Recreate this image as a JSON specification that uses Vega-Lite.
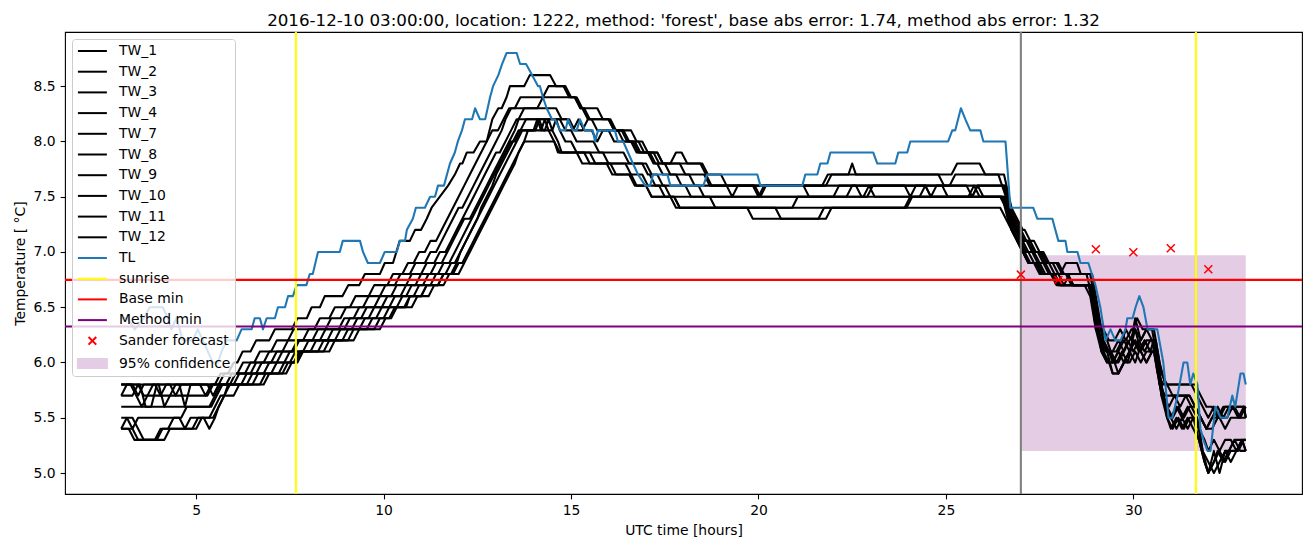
{
"$schema": "https://vega.github.io/schema/vega-lite/v6.json",
"width": 1237, "height": 462,
"autosize": {"type": "none"},
"padding": {"left": 65, "top": 32, "right": 13, "bottom": 53},
"background": "white",
"title": {"text": "2016-12-10 03:00:00, location: 1222, method: 'forest', base abs error: 1.74, method abs error: 1.32", "font": "DejaVu Sans", "fontSize": 16.7, "fontWeight": "normal", "color": "black", "anchor": "middle", "frame": "group", "offset": -12, "baseline": "alphabetic"},
"config": {
  "view": {"stroke": "black", "strokeWidth": 1.1},
  "axis": {"domain": false, "grid": false, "tickColor": "black", "tickSize": 4.9, "tickWidth": 1.1, "labelFont": "DejaVu Sans", "labelFontSize": 13.9, "labelColor": "black", "labelPadding": 4.9, "titleFont": "DejaVu Sans", "titleFontSize": 13.9, "titleFontWeight": "normal", "titleColor": "black"},
  "legend": {"orient": "top-left", "direction": "vertical", "offset": 7, "padding": 4, "rowPadding": 5.7, "symbolSize": 196, "symbolOffset": 8.4, "labelOffset": 18.6, "labelFont": "DejaVu Sans", "labelFontSize": 13.9, "labelColor": "black", "fillColor": "rgba(255,255,255,0.8)", "strokeColor": "#cccccc", "cornerRadius": 3, "labelLimit": 0, "symbolLimit": 0}
},
"datasets": {
"tw": [
{"s":"TW_1","x":3,"y":5.8},{"s":"TW_1","x":3.3,"y":5.8},{"s":"TW_1","x":3.45,"y":5.7},{"s":"TW_1","x":3.6,"y":5.8},{"s":"TW_1","x":4.3,"y":5.8},{"s":"TW_1","x":4.45,"y":5.7},{"s":"TW_1","x":4.6,"y":5.8},{"s":"TW_1","x":5.5,"y":5.8},{"s":"TW_1","x":5.65,"y":5.9},{"s":"TW_1","x":5.85,"y":5.9},{"s":"TW_1","x":6.0,"y":6.0},{"s":"TW_1","x":6.1,"y":6.0},{"s":"TW_1","x":6.24,"y":6.1},{"s":"TW_1","x":6.45,"y":6.1},{"s":"TW_1","x":6.6,"y":6.2},{"s":"TW_1","x":6.95,"y":6.2},{"s":"TW_1","x":7.1,"y":6.3},{"s":"TW_1","x":7.55,"y":6.3},{"s":"TW_1","x":7.7,"y":6.4},{"s":"TW_1","x":7.95,"y":6.4},{"s":"TW_1","x":8.08,"y":6.5},{"s":"TW_1","x":8.3,"y":6.5},{"s":"TW_1","x":8.43,"y":6.6},{"s":"TW_1","x":8.9,"y":6.6},{"s":"TW_1","x":9.06,"y":6.7},{"s":"TW_1","x":9.35,"y":6.7},{"s":"TW_1","x":9.5,"y":6.8},{"s":"TW_1","x":9.9,"y":6.8},{"s":"TW_1","x":10.03,"y":6.9},{"s":"TW_1","x":10.25,"y":6.9},{"s":"TW_1","x":10.43,"y":7.1},{"s":"TW_1","x":10.7,"y":7.1},{"s":"TW_1","x":10.84,"y":7.2},{"s":"TW_1","x":11.0,"y":7.2},{"s":"TW_1","x":11.15,"y":7.3},{"s":"TW_1","x":11.28,"y":7.4},{"s":"TW_1","x":11.5,"y":7.5},{"s":"TW_1","x":11.72,"y":7.6},{"s":"TW_1","x":11.9,"y":7.7},{"s":"TW_1","x":12.04,"y":7.8},{"s":"TW_1","x":12.1,"y":7.8},{"s":"TW_1","x":12.22,"y":7.9},{"s":"TW_1","x":12.4,"y":7.9},{"s":"TW_1","x":12.57,"y":8.0},{"s":"TW_1","x":12.75,"y":8.0},{"s":"TW_1","x":12.9,"y":8.2},{"s":"TW_1","x":13.06,"y":8.3},{"s":"TW_1","x":13.15,"y":8.3},{"s":"TW_1","x":13.28,"y":8.4},{"s":"TW_1","x":13.37,"y":8.5},{"s":"TW_1","x":13.75,"y":8.5},{"s":"TW_1","x":13.9,"y":8.6},{"s":"TW_1","x":14.44,"y":8.6},{"s":"TW_1","x":14.6,"y":8.5},{"s":"TW_1","x":14.85,"y":8.5},{"s":"TW_1","x":15.0,"y":8.4},{"s":"TW_1","x":15.1,"y":8.4},{"s":"TW_1","x":15.25,"y":8.3},{"s":"TW_1","x":15.7,"y":8.3},{"s":"TW_1","x":15.85,"y":8.2},{"s":"TW_1","x":16.0,"y":8.2},{"s":"TW_1","x":16.15,"y":8.1},{"s":"TW_1","x":16.4,"y":8.1},{"s":"TW_1","x":16.55,"y":8.0},{"s":"TW_1","x":16.7,"y":8.0},{"s":"TW_1","x":16.85,"y":7.9},{"s":"TW_1","x":17.1,"y":7.9},{"s":"TW_1","x":17.25,"y":7.8},{"s":"TW_1","x":18.45,"y":7.8},{"s":"TW_1","x":18.6,"y":7.7},{"s":"TW_1","x":18.75,"y":7.6},{"s":"TW_1","x":21.7,"y":7.6},{"s":"TW_1","x":21.85,"y":7.7},{"s":"TW_1","x":25.15,"y":7.7},{"s":"TW_1","x":25.3,"y":7.8},{"s":"TW_1","x":25.9,"y":7.8},{"s":"TW_1","x":26.05,"y":7.7},{"s":"TW_1","x":26.55,"y":7.7},{"s":"TW_1","x":26.75,"y":7.4},{"s":"TW_1","x":26.9,"y":7.3},{"s":"TW_1","x":27.05,"y":7.2},{"s":"TW_1","x":27.1,"y":7.2},{"s":"TW_1","x":27.25,"y":7.1},{"s":"TW_1","x":27.35,"y":7.1},{"s":"TW_1","x":27.5,"y":7.0},{"s":"TW_1","x":27.6,"y":7.0},{"s":"TW_1","x":27.75,"y":6.9},{"s":"TW_1","x":28.0,"y":6.9},{"s":"TW_1","x":28.15,"y":6.8},{"s":"TW_1","x":28.75,"y":6.8},{"s":"TW_1","x":28.9,"y":6.6},{"s":"TW_1","x":29.0,"y":6.4},{"s":"TW_1","x":29.15,"y":6.3},{"s":"TW_1","x":29.2,"y":6.3},{"s":"TW_1","x":29.35,"y":6.2},{"s":"TW_1","x":29.5,"y":6.2},{"s":"TW_1","x":29.65,"y":6.3},{"s":"TW_1","x":29.8,"y":6.2},{"s":"TW_1","x":29.95,"y":6.3},{"s":"TW_1","x":30.0,"y":6.3},{"s":"TW_1","x":30.1,"y":6.4},{"s":"TW_1","x":30.25,"y":6.3},{"s":"TW_1","x":30.55,"y":6.3},{"s":"TW_1","x":30.7,"y":6.0},{"s":"TW_1","x":30.85,"y":5.8},{"s":"TW_1","x":31.65,"y":5.8},{"s":"TW_1","x":31.8,"y":5.7},{"s":"TW_1","x":31.95,"y":5.6},{"s":"TW_1","x":32.1,"y":5.6},{"s":"TW_1","x":32.25,"y":5.5},{"s":"TW_1","x":32.4,"y":5.6},{"s":"TW_1","x":32.95,"y":5.6},{"s":"TW_1","x":33.0,"y":5.5},
{"s":"TW_2","x":3,"y":5.8},{"s":"TW_2","x":3.5,"y":5.8},{"s":"TW_2","x":3.65,"y":5.6},{"s":"TW_2","x":3.8,"y":5.6},{"s":"TW_2","x":3.95,"y":5.8},{"s":"TW_2","x":4.55,"y":5.8},{"s":"TW_2","x":4.7,"y":5.6},{"s":"TW_2","x":4.85,"y":5.8},{"s":"TW_2","x":5.6,"y":5.8},{"s":"TW_2","x":5.75,"y":5.9},{"s":"TW_2","x":6.1,"y":5.9},{"s":"TW_2","x":6.25,"y":6.0},{"s":"TW_2","x":6.55,"y":6.0},{"s":"TW_2","x":6.7,"y":6.1},{"s":"TW_2","x":7.0,"y":6.1},{"s":"TW_2","x":7.15,"y":6.2},{"s":"TW_2","x":7.45,"y":6.2},{"s":"TW_2","x":7.6,"y":6.3},{"s":"TW_2","x":8.15,"y":6.3},{"s":"TW_2","x":8.3,"y":6.4},{"s":"TW_2","x":8.55,"y":6.4},{"s":"TW_2","x":8.7,"y":6.5},{"s":"TW_2","x":9.1,"y":6.5},{"s":"TW_2","x":9.25,"y":6.6},{"s":"TW_2","x":9.6,"y":6.6},{"s":"TW_2","x":9.75,"y":6.7},{"s":"TW_2","x":10.1,"y":6.7},{"s":"TW_2","x":10.25,"y":6.8},{"s":"TW_2","x":10.5,"y":6.8},{"s":"TW_2","x":10.65,"y":6.9},{"s":"TW_2","x":10.8,"y":6.9},{"s":"TW_2","x":10.95,"y":7.0},{"s":"TW_2","x":11.1,"y":7.0},{"s":"TW_2","x":11.25,"y":7.1},{"s":"TW_2","x":11.4,"y":7.1},{"s":"TW_2","x":11.55,"y":7.2},{"s":"TW_2","x":11.7,"y":7.3},{"s":"TW_2","x":11.85,"y":7.4},{"s":"TW_2","x":12.0,"y":7.5},{"s":"TW_2","x":12.15,"y":7.6},{"s":"TW_2","x":12.3,"y":7.7},{"s":"TW_2","x":12.45,"y":7.8},{"s":"TW_2","x":12.6,"y":7.9},{"s":"TW_2","x":12.75,"y":8.0},{"s":"TW_2","x":12.9,"y":8.1},{"s":"TW_2","x":13.05,"y":8.1},{"s":"TW_2","x":13.2,"y":8.2},{"s":"TW_2","x":13.35,"y":8.3},{"s":"TW_2","x":13.5,"y":8.3},{"s":"TW_2","x":13.65,"y":8.4},{"s":"TW_2","x":14.25,"y":8.4},{"s":"TW_2","x":14.4,"y":8.5},{"s":"TW_2","x":14.8,"y":8.5},{"s":"TW_2","x":14.95,"y":8.4},{"s":"TW_2","x":15.15,"y":8.4},{"s":"TW_2","x":15.3,"y":8.3},{"s":"TW_2","x":15.35,"y":8.3},{"s":"TW_2","x":15.5,"y":8.2},{"s":"TW_2","x":16.05,"y":8.2},{"s":"TW_2","x":16.2,"y":8.1},{"s":"TW_2","x":16.6,"y":8.1},{"s":"TW_2","x":16.75,"y":8.0},{"s":"TW_2","x":16.8,"y":8.0},{"s":"TW_2","x":16.95,"y":7.9},{"s":"TW_2","x":17.3,"y":7.9},{"s":"TW_2","x":17.45,"y":7.8},{"s":"TW_2","x":17.65,"y":7.8},{"s":"TW_2","x":17.8,"y":7.9},{"s":"TW_2","x":17.95,"y":7.9},{"s":"TW_2","x":18.1,"y":7.8},{"s":"TW_2","x":18.5,"y":7.8},{"s":"TW_2","x":18.65,"y":7.7},{"s":"TW_2","x":19.0,"y":7.7},{"s":"TW_2","x":19.15,"y":7.6},{"s":"TW_2","x":21.8,"y":7.6},{"s":"TW_2","x":21.95,"y":7.7},{"s":"TW_2","x":22.4,"y":7.7},{"s":"TW_2","x":22.5,"y":7.8},{"s":"TW_2","x":22.6,"y":7.7},{"s":"TW_2","x":24.8,"y":7.7},{"s":"TW_2","x":24.95,"y":7.6},{"s":"TW_2","x":25.1,"y":7.6},{"s":"TW_2","x":25.25,"y":7.7},{"s":"TW_2","x":26.4,"y":7.7},{"s":"TW_2","x":26.6,"y":7.5},{"s":"TW_2","x":26.75,"y":7.3},{"s":"TW_2","x":26.9,"y":7.2},{"s":"TW_2","x":27.05,"y":7.1},{"s":"TW_2","x":27.2,"y":7.1},{"s":"TW_2","x":27.35,"y":7.0},{"s":"TW_2","x":27.5,"y":7.0},{"s":"TW_2","x":27.65,"y":6.9},{"s":"TW_2","x":27.85,"y":6.9},{"s":"TW_2","x":28.0,"y":6.8},{"s":"TW_2","x":28.2,"y":6.8},{"s":"TW_2","x":28.35,"y":6.7},{"s":"TW_2","x":28.8,"y":6.7},{"s":"TW_2","x":28.95,"y":6.5},{"s":"TW_2","x":29.1,"y":6.2},{"s":"TW_2","x":29.25,"y":6.1},{"s":"TW_2","x":29.4,"y":6.1},{"s":"TW_2","x":29.55,"y":6.0},{"s":"TW_2","x":29.7,"y":6.1},{"s":"TW_2","x":29.85,"y":6.0},{"s":"TW_2","x":30.0,"y":6.2},{"s":"TW_2","x":30.15,"y":6.1},{"s":"TW_2","x":30.3,"y":6.2},{"s":"TW_2","x":30.45,"y":6.1},{"s":"TW_2","x":30.55,"y":6.2},{"s":"TW_2","x":30.7,"y":5.8},{"s":"TW_2","x":30.85,"y":5.7},{"s":"TW_2","x":31.5,"y":5.7},{"s":"TW_2","x":31.65,"y":5.6},{"s":"TW_2","x":31.8,"y":5.5},{"s":"TW_2","x":31.95,"y":5.4},{"s":"TW_2","x":32.1,"y":5.4},{"s":"TW_2","x":32.25,"y":5.5},{"s":"TW_2","x":32.5,"y":5.5},{"s":"TW_2","x":32.65,"y":5.6},{"s":"TW_2","x":32.8,"y":5.5},{"s":"TW_2","x":32.95,"y":5.6},{"s":"TW_2","x":33.0,"y":5.5},
{"s":"TW_3","x":3,"y":5.8},{"s":"TW_3","x":3.9,"y":5.8},{"s":"TW_3","x":4.05,"y":5.7},{"s":"TW_3","x":4.2,"y":5.8},{"s":"TW_3","x":5.1,"y":5.8},{"s":"TW_3","x":5.25,"y":5.7},{"s":"TW_3","x":5.4,"y":5.8},{"s":"TW_3","x":5.8,"y":5.8},{"s":"TW_3","x":5.95,"y":5.9},{"s":"TW_3","x":6.3,"y":5.9},{"s":"TW_3","x":6.45,"y":6.0},{"s":"TW_3","x":6.8,"y":6.0},{"s":"TW_3","x":6.95,"y":6.1},{"s":"TW_3","x":7.3,"y":6.1},{"s":"TW_3","x":7.45,"y":6.2},{"s":"TW_3","x":7.85,"y":6.2},{"s":"TW_3","x":8.0,"y":6.3},{"s":"TW_3","x":8.45,"y":6.3},{"s":"TW_3","x":8.6,"y":6.4},{"s":"TW_3","x":8.85,"y":6.4},{"s":"TW_3","x":9.0,"y":6.5},{"s":"TW_3","x":9.45,"y":6.5},{"s":"TW_3","x":9.6,"y":6.6},{"s":"TW_3","x":9.9,"y":6.6},{"s":"TW_3","x":10.05,"y":6.7},{"s":"TW_3","x":10.3,"y":6.7},{"s":"TW_3","x":10.45,"y":6.8},{"s":"TW_3","x":10.7,"y":6.8},{"s":"TW_3","x":10.85,"y":6.9},{"s":"TW_3","x":11.1,"y":6.9},{"s":"TW_3","x":11.25,"y":7.0},{"s":"TW_3","x":11.4,"y":7.0},{"s":"TW_3","x":11.55,"y":7.1},{"s":"TW_3","x":11.7,"y":7.2},{"s":"TW_3","x":11.85,"y":7.3},{"s":"TW_3","x":12.0,"y":7.4},{"s":"TW_3","x":12.1,"y":7.4},{"s":"TW_3","x":12.25,"y":7.5},{"s":"TW_3","x":12.4,"y":7.6},{"s":"TW_3","x":12.55,"y":7.7},{"s":"TW_3","x":12.7,"y":7.8},{"s":"TW_3","x":12.85,"y":7.9},{"s":"TW_3","x":13.0,"y":8.0},{"s":"TW_3","x":13.15,"y":8.1},{"s":"TW_3","x":13.25,"y":8.2},{"s":"TW_3","x":13.4,"y":8.3},{"s":"TW_3","x":14.6,"y":8.3},{"s":"TW_3","x":14.75,"y":8.2},{"s":"TW_3","x":14.9,"y":8.2},{"s":"TW_3","x":15.05,"y":8.1},{"s":"TW_3","x":15.2,"y":8.2},{"s":"TW_3","x":15.35,"y":8.1},{"s":"TW_3","x":15.55,"y":8.1},{"s":"TW_3","x":15.7,"y":8.0},{"s":"TW_3","x":15.85,"y":8.1},{"s":"TW_3","x":16.35,"y":8.1},{"s":"TW_3","x":16.5,"y":8.0},{"s":"TW_3","x":16.6,"y":8.0},{"s":"TW_3","x":16.75,"y":7.9},{"s":"TW_3","x":17.05,"y":7.9},{"s":"TW_3","x":17.2,"y":7.8},{"s":"TW_3","x":17.3,"y":7.8},{"s":"TW_3","x":17.45,"y":7.7},{"s":"TW_3","x":18.55,"y":7.7},{"s":"TW_3","x":18.7,"y":7.6},{"s":"TW_3","x":19.15,"y":7.6},{"s":"TW_3","x":19.3,"y":7.5},{"s":"TW_3","x":19.45,"y":7.6},{"s":"TW_3","x":19.85,"y":7.6},{"s":"TW_3","x":20.0,"y":7.5},{"s":"TW_3","x":20.15,"y":7.6},{"s":"TW_3","x":22.6,"y":7.6},{"s":"TW_3","x":22.75,"y":7.5},{"s":"TW_3","x":22.9,"y":7.5},{"s":"TW_3","x":23.05,"y":7.6},{"s":"TW_3","x":26.55,"y":7.6},{"s":"TW_3","x":26.7,"y":7.4},{"s":"TW_3","x":26.85,"y":7.3},{"s":"TW_3","x":27.0,"y":7.2},{"s":"TW_3","x":27.15,"y":7.1},{"s":"TW_3","x":27.3,"y":7.0},{"s":"TW_3","x":27.45,"y":7.0},{"s":"TW_3","x":27.6,"y":6.9},{"s":"TW_3","x":27.75,"y":6.9},{"s":"TW_3","x":27.9,"y":6.8},{"s":"TW_3","x":28.05,"y":6.8},{"s":"TW_3","x":28.2,"y":6.9},{"s":"TW_3","x":28.5,"y":6.9},{"s":"TW_3","x":28.6,"y":6.8},{"s":"TW_3","x":28.9,"y":6.8},{"s":"TW_3","x":29.05,"y":6.5},{"s":"TW_3","x":29.2,"y":6.2},{"s":"TW_3","x":29.35,"y":6.1},{"s":"TW_3","x":29.45,"y":6.0},{"s":"TW_3","x":29.6,"y":6.0},{"s":"TW_3","x":29.75,"y":6.1},{"s":"TW_3","x":29.85,"y":6.2},{"s":"TW_3","x":30.0,"y":6.1},{"s":"TW_3","x":30.15,"y":6.2},{"s":"TW_3","x":30.3,"y":6.1},{"s":"TW_3","x":30.45,"y":6.2},{"s":"TW_3","x":30.55,"y":6.2},{"s":"TW_3","x":30.7,"y":5.9},{"s":"TW_3","x":30.85,"y":5.6},{"s":"TW_3","x":31.0,"y":5.5},{"s":"TW_3","x":31.15,"y":5.6},{"s":"TW_3","x":31.3,"y":5.5},{"s":"TW_3","x":31.45,"y":5.6},{"s":"TW_3","x":31.6,"y":5.5},{"s":"TW_3","x":31.75,"y":5.4},{"s":"TW_3","x":31.9,"y":5.3},{"s":"TW_3","x":32.0,"y":5.2},{"s":"TW_3","x":32.15,"y":5.3},{"s":"TW_3","x":32.3,"y":5.2},{"s":"TW_3","x":32.45,"y":5.3},{"s":"TW_3","x":32.6,"y":5.3},{"s":"TW_3","x":32.75,"y":5.2},{"s":"TW_3","x":32.9,"y":5.3},{"s":"TW_3","x":33.0,"y":5.2},
{"s":"TW_4","x":3,"y":5.7},{"s":"TW_4","x":3.3,"y":5.7},{"s":"TW_4","x":3.45,"y":5.8},{"s":"TW_4","x":3.6,"y":5.7},{"s":"TW_4","x":5.3,"y":5.7},{"s":"TW_4","x":5.45,"y":5.8},{"s":"TW_4","x":5.9,"y":5.8},{"s":"TW_4","x":6.05,"y":5.9},{"s":"TW_4","x":6.45,"y":5.9},{"s":"TW_4","x":6.6,"y":6.0},{"s":"TW_4","x":7.0,"y":6.0},{"s":"TW_4","x":7.15,"y":6.1},{"s":"TW_4","x":7.55,"y":6.1},{"s":"TW_4","x":7.7,"y":6.2},{"s":"TW_4","x":8.1,"y":6.2},{"s":"TW_4","x":8.25,"y":6.3},{"s":"TW_4","x":8.8,"y":6.3},{"s":"TW_4","x":8.95,"y":6.4},{"s":"TW_4","x":9.2,"y":6.4},{"s":"TW_4","x":9.35,"y":6.5},{"s":"TW_4","x":9.75,"y":6.5},{"s":"TW_4","x":9.9,"y":6.6},{"s":"TW_4","x":10.2,"y":6.6},{"s":"TW_4","x":10.35,"y":6.7},{"s":"TW_4","x":10.6,"y":6.7},{"s":"TW_4","x":10.75,"y":6.8},{"s":"TW_4","x":11.0,"y":6.8},{"s":"TW_4","x":11.15,"y":6.9},{"s":"TW_4","x":11.35,"y":6.9},{"s":"TW_4","x":11.5,"y":7.0},{"s":"TW_4","x":11.65,"y":7.0},{"s":"TW_4","x":11.8,"y":7.1},{"s":"TW_4","x":11.95,"y":7.2},{"s":"TW_4","x":12.1,"y":7.3},{"s":"TW_4","x":12.25,"y":7.4},{"s":"TW_4","x":12.4,"y":7.5},{"s":"TW_4","x":12.55,"y":7.6},{"s":"TW_4","x":12.7,"y":7.7},{"s":"TW_4","x":12.85,"y":7.8},{"s":"TW_4","x":13.0,"y":7.9},{"s":"TW_4","x":13.1,"y":7.9},{"s":"TW_4","x":13.25,"y":8.0},{"s":"TW_4","x":13.4,"y":8.1},{"s":"TW_4","x":13.55,"y":8.2},{"s":"TW_4","x":14.95,"y":8.2},{"s":"TW_4","x":15.1,"y":8.1},{"s":"TW_4","x":15.3,"y":8.1},{"s":"TW_4","x":15.45,"y":8.2},{"s":"TW_4","x":16.0,"y":8.2},{"s":"TW_4","x":16.15,"y":8.1},{"s":"TW_4","x":16.25,"y":8.1},{"s":"TW_4","x":16.4,"y":8.0},{"s":"TW_4","x":16.65,"y":8.0},{"s":"TW_4","x":16.8,"y":7.9},{"s":"TW_4","x":17.2,"y":7.9},{"s":"TW_4","x":17.35,"y":7.8},{"s":"TW_4","x":17.9,"y":7.8},{"s":"TW_4","x":18.05,"y":7.7},{"s":"TW_4","x":18.15,"y":7.7},{"s":"TW_4","x":18.3,"y":7.6},{"s":"TW_4","x":19.9,"y":7.6},{"s":"TW_4","x":20.05,"y":7.5},{"s":"TW_4","x":20.2,"y":7.6},{"s":"TW_4","x":21.2,"y":7.6},{"s":"TW_4","x":21.35,"y":7.5},{"s":"TW_4","x":22.35,"y":7.5},{"s":"TW_4","x":22.5,"y":7.6},{"s":"TW_4","x":24.45,"y":7.6},{"s":"TW_4","x":24.6,"y":7.5},{"s":"TW_4","x":24.75,"y":7.6},{"s":"TW_4","x":25.55,"y":7.6},{"s":"TW_4","x":25.7,"y":7.5},{"s":"TW_4","x":25.85,"y":7.6},{"s":"TW_4","x":26.6,"y":7.6},{"s":"TW_4","x":26.75,"y":7.3},{"s":"TW_4","x":26.9,"y":7.2},{"s":"TW_4","x":27.05,"y":7.1},{"s":"TW_4","x":27.2,"y":7.0},{"s":"TW_4","x":27.35,"y":7.0},{"s":"TW_4","x":27.5,"y":6.9},{"s":"TW_4","x":27.65,"y":6.9},{"s":"TW_4","x":27.8,"y":6.8},{"s":"TW_4","x":28.0,"y":6.8},{"s":"TW_4","x":28.15,"y":6.7},{"s":"TW_4","x":28.3,"y":6.8},{"s":"TW_4","x":28.85,"y":6.8},{"s":"TW_4","x":29.0,"y":6.5},{"s":"TW_4","x":29.15,"y":6.3},{"s":"TW_4","x":29.3,"y":6.2},{"s":"TW_4","x":29.4,"y":6.1},{"s":"TW_4","x":29.55,"y":6.1},{"s":"TW_4","x":29.7,"y":6.2},{"s":"TW_4","x":29.8,"y":6.3},{"s":"TW_4","x":29.95,"y":6.2},{"s":"TW_4","x":30.05,"y":6.4},{"s":"TW_4","x":30.2,"y":6.2},{"s":"TW_4","x":30.35,"y":6.3},{"s":"TW_4","x":30.5,"y":6.3},{"s":"TW_4","x":30.65,"y":6.0},{"s":"TW_4","x":30.8,"y":5.7},{"s":"TW_4","x":30.95,"y":5.6},{"s":"TW_4","x":31.1,"y":5.7},{"s":"TW_4","x":31.25,"y":5.6},{"s":"TW_4","x":31.4,"y":5.7},{"s":"TW_4","x":31.55,"y":5.6},{"s":"TW_4","x":31.7,"y":5.5},{"s":"TW_4","x":31.85,"y":5.2},{"s":"TW_4","x":32.0,"y":5.0},{"s":"TW_4","x":32.15,"y":5.2},{"s":"TW_4","x":32.3,"y":5.0},{"s":"TW_4","x":32.45,"y":5.2},{"s":"TW_4","x":32.55,"y":5.2},{"s":"TW_4","x":32.7,"y":5.3},{"s":"TW_4","x":33.0,"y":5.3},
{"s":"TW_7","x":3,"y":5.7},{"s":"TW_7","x":3.15,"y":5.8},{"s":"TW_7","x":3.25,"y":5.8},{"s":"TW_7","x":3.4,"y":5.7},{"s":"TW_7","x":3.55,"y":5.6},{"s":"TW_7","x":3.7,"y":5.7},{"s":"TW_7","x":3.85,"y":5.8},{"s":"TW_7","x":4.0,"y":5.8},{"s":"TW_7","x":4.15,"y":5.6},{"s":"TW_7","x":4.3,"y":5.7},{"s":"TW_7","x":4.45,"y":5.8},{"s":"TW_7","x":5.3,"y":5.8},{"s":"TW_7","x":5.45,"y":5.7},{"s":"TW_7","x":5.6,"y":5.8},{"s":"TW_7","x":6.0,"y":5.8},{"s":"TW_7","x":6.15,"y":5.9},{"s":"TW_7","x":6.6,"y":5.9},{"s":"TW_7","x":6.75,"y":6.0},{"s":"TW_7","x":7.15,"y":6.0},{"s":"TW_7","x":7.3,"y":6.1},{"s":"TW_7","x":7.6,"y":6.1},{"s":"TW_7","x":7.75,"y":6.2},{"s":"TW_7","x":8.3,"y":6.2},{"s":"TW_7","x":8.45,"y":6.3},{"s":"TW_7","x":8.95,"y":6.3},{"s":"TW_7","x":9.1,"y":6.4},{"s":"TW_7","x":9.4,"y":6.4},{"s":"TW_7","x":9.55,"y":6.5},{"s":"TW_7","x":9.95,"y":6.5},{"s":"TW_7","x":10.1,"y":6.6},{"s":"TW_7","x":10.45,"y":6.6},{"s":"TW_7","x":10.6,"y":6.7},{"s":"TW_7","x":10.85,"y":6.7},{"s":"TW_7","x":11.0,"y":6.8},{"s":"TW_7","x":11.25,"y":6.8},{"s":"TW_7","x":11.4,"y":6.9},{"s":"TW_7","x":11.55,"y":6.9},{"s":"TW_7","x":11.7,"y":7.0},{"s":"TW_7","x":11.85,"y":7.1},{"s":"TW_7","x":12.0,"y":7.2},{"s":"TW_7","x":12.15,"y":7.3},{"s":"TW_7","x":12.3,"y":7.3},{"s":"TW_7","x":12.45,"y":7.4},{"s":"TW_7","x":12.6,"y":7.5},{"s":"TW_7","x":12.75,"y":7.6},{"s":"TW_7","x":12.9,"y":7.7},{"s":"TW_7","x":13.05,"y":7.8},{"s":"TW_7","x":13.2,"y":7.9},{"s":"TW_7","x":13.35,"y":8.0},{"s":"TW_7","x":13.5,"y":8.1},{"s":"TW_7","x":13.6,"y":8.2},{"s":"TW_7","x":13.75,"y":8.3},{"s":"TW_7","x":14.1,"y":8.3},{"s":"TW_7","x":14.25,"y":8.4},{"s":"TW_7","x":15.1,"y":8.4},{"s":"TW_7","x":15.25,"y":8.3},{"s":"TW_7","x":15.3,"y":8.3},{"s":"TW_7","x":15.45,"y":8.2},{"s":"TW_7","x":15.55,"y":8.2},{"s":"TW_7","x":15.7,"y":8.1},{"s":"TW_7","x":16.0,"y":8.1},{"s":"TW_7","x":16.15,"y":8.0},{"s":"TW_7","x":16.9,"y":8.0},{"s":"TW_7","x":17.05,"y":7.9},{"s":"TW_7","x":17.3,"y":7.9},{"s":"TW_7","x":17.45,"y":7.8},{"s":"TW_7","x":17.5,"y":7.8},{"s":"TW_7","x":17.65,"y":7.7},{"s":"TW_7","x":17.8,"y":7.7},{"s":"TW_7","x":17.95,"y":7.6},{"s":"TW_7","x":18.05,"y":7.6},{"s":"TW_7","x":18.2,"y":7.5},{"s":"TW_7","x":22.0,"y":7.5},{"s":"TW_7","x":22.15,"y":7.6},{"s":"TW_7","x":23.9,"y":7.6},{"s":"TW_7","x":24.05,"y":7.5},{"s":"TW_7","x":24.2,"y":7.6},{"s":"TW_7","x":24.9,"y":7.6},{"s":"TW_7","x":25.05,"y":7.5},{"s":"TW_7","x":26.5,"y":7.5},{"s":"TW_7","x":26.65,"y":7.4},{"s":"TW_7","x":26.8,"y":7.3},{"s":"TW_7","x":26.95,"y":7.2},{"s":"TW_7","x":27.1,"y":7.1},{"s":"TW_7","x":27.25,"y":7.1},{"s":"TW_7","x":27.4,"y":7.0},{"s":"TW_7","x":27.55,"y":7.0},{"s":"TW_7","x":27.7,"y":6.9},{"s":"TW_7","x":27.95,"y":6.9},{"s":"TW_7","x":28.1,"y":6.8},{"s":"TW_7","x":28.25,"y":6.8},{"s":"TW_7","x":28.4,"y":6.7},{"s":"TW_7","x":28.9,"y":6.7},{"s":"TW_7","x":29.05,"y":6.4},{"s":"TW_7","x":29.2,"y":6.2},{"s":"TW_7","x":29.35,"y":6.1},{"s":"TW_7","x":29.5,"y":6.0},{"s":"TW_7","x":29.6,"y":5.9},{"s":"TW_7","x":29.75,"y":6.0},{"s":"TW_7","x":29.9,"y":6.1},{"s":"TW_7","x":30.05,"y":6.2},{"s":"TW_7","x":30.2,"y":6.1},{"s":"TW_7","x":30.35,"y":6.0},{"s":"TW_7","x":30.5,"y":6.1},{"s":"TW_7","x":30.6,"y":6.1},{"s":"TW_7","x":30.75,"y":5.8},{"s":"TW_7","x":30.9,"y":5.5},{"s":"TW_7","x":31.0,"y":5.4},{"s":"TW_7","x":31.15,"y":5.5},{"s":"TW_7","x":31.3,"y":5.4},{"s":"TW_7","x":31.45,"y":5.5},{"s":"TW_7","x":31.6,"y":5.4},{"s":"TW_7","x":31.75,"y":5.3},{"s":"TW_7","x":31.9,"y":5.1},{"s":"TW_7","x":32.0,"y":5.0},{"s":"TW_7","x":32.15,"y":5.1},{"s":"TW_7","x":32.3,"y":5.2},{"s":"TW_7","x":32.45,"y":5.1},{"s":"TW_7","x":32.6,"y":5.2},{"s":"TW_7","x":32.8,"y":5.2},{"s":"TW_7","x":32.95,"y":5.3},{"s":"TW_7","x":33.0,"y":5.3},
{"s":"TW_8","x":3,"y":5.6},{"s":"TW_8","x":5.35,"y":5.6},{"s":"TW_8","x":5.5,"y":5.7},{"s":"TW_8","x":5.65,"y":5.8},{"s":"TW_8","x":6.2,"y":5.8},{"s":"TW_8","x":6.35,"y":5.9},{"s":"TW_8","x":6.8,"y":5.9},{"s":"TW_8","x":6.95,"y":6.0},{"s":"TW_8","x":7.35,"y":6.0},{"s":"TW_8","x":7.5,"y":6.1},{"s":"TW_8","x":7.85,"y":6.1},{"s":"TW_8","x":8.0,"y":6.2},{"s":"TW_8","x":8.5,"y":6.2},{"s":"TW_8","x":8.65,"y":6.3},{"s":"TW_8","x":9.15,"y":6.3},{"s":"TW_8","x":9.3,"y":6.4},{"s":"TW_8","x":9.6,"y":6.4},{"s":"TW_8","x":9.75,"y":6.5},{"s":"TW_8","x":10.15,"y":6.5},{"s":"TW_8","x":10.3,"y":6.6},{"s":"TW_8","x":10.6,"y":6.6},{"s":"TW_8","x":10.75,"y":6.7},{"s":"TW_8","x":11.05,"y":6.7},{"s":"TW_8","x":11.2,"y":6.8},{"s":"TW_8","x":11.45,"y":6.8},{"s":"TW_8","x":11.6,"y":6.9},{"s":"TW_8","x":11.75,"y":6.9},{"s":"TW_8","x":11.9,"y":7.0},{"s":"TW_8","x":12.05,"y":7.1},{"s":"TW_8","x":12.2,"y":7.2},{"s":"TW_8","x":12.35,"y":7.3},{"s":"TW_8","x":12.5,"y":7.4},{"s":"TW_8","x":12.65,"y":7.5},{"s":"TW_8","x":12.8,"y":7.6},{"s":"TW_8","x":12.95,"y":7.7},{"s":"TW_8","x":13.1,"y":7.8},{"s":"TW_8","x":13.25,"y":7.9},{"s":"TW_8","x":13.4,"y":8.0},{"s":"TW_8","x":13.5,"y":8.0},{"s":"TW_8","x":13.65,"y":8.1},{"s":"TW_8","x":13.8,"y":8.2},{"s":"TW_8","x":14.7,"y":8.2},{"s":"TW_8","x":14.85,"y":8.1},{"s":"TW_8","x":15.0,"y":8.1},{"s":"TW_8","x":15.15,"y":8.0},{"s":"TW_8","x":15.6,"y":8.0},{"s":"TW_8","x":15.75,"y":7.9},{"s":"TW_8","x":16.4,"y":7.9},{"s":"TW_8","x":16.55,"y":7.8},{"s":"TW_8","x":17.0,"y":7.8},{"s":"TW_8","x":17.15,"y":7.7},{"s":"TW_8","x":17.3,"y":7.7},{"s":"TW_8","x":17.45,"y":7.6},{"s":"TW_8","x":18.4,"y":7.6},{"s":"TW_8","x":18.55,"y":7.5},{"s":"TW_8","x":22.8,"y":7.5},{"s":"TW_8","x":22.95,"y":7.6},{"s":"TW_8","x":23.1,"y":7.5},{"s":"TW_8","x":24.3,"y":7.5},{"s":"TW_8","x":24.45,"y":7.6},{"s":"TW_8","x":24.6,"y":7.5},{"s":"TW_8","x":25.6,"y":7.5},{"s":"TW_8","x":25.75,"y":7.6},{"s":"TW_8","x":25.9,"y":7.5},{"s":"TW_8","x":26.6,"y":7.5},{"s":"TW_8","x":26.75,"y":7.2},{"s":"TW_8","x":26.9,"y":7.1},{"s":"TW_8","x":27.05,"y":7.0},{"s":"TW_8","x":27.2,"y":7.0},{"s":"TW_8","x":27.35,"y":6.9},{"s":"TW_8","x":27.5,"y":6.9},{"s":"TW_8","x":27.65,"y":6.8},{"s":"TW_8","x":27.9,"y":6.8},{"s":"TW_8","x":28.05,"y":6.7},{"s":"TW_8","x":28.85,"y":6.7},{"s":"TW_8","x":29.0,"y":6.4},{"s":"TW_8","x":29.15,"y":6.1},{"s":"TW_8","x":29.3,"y":6.0},{"s":"TW_8","x":29.45,"y":6.0},{"s":"TW_8","x":29.6,"y":6.1},{"s":"TW_8","x":29.75,"y":6.2},{"s":"TW_8","x":29.9,"y":6.1},{"s":"TW_8","x":30.05,"y":6.3},{"s":"TW_8","x":30.2,"y":6.1},{"s":"TW_8","x":30.35,"y":6.2},{"s":"TW_8","x":30.5,"y":6.2},{"s":"TW_8","x":30.65,"y":5.9},{"s":"TW_8","x":30.8,"y":5.8},{"s":"TW_8","x":31.55,"y":5.8},{"s":"TW_8","x":31.7,"y":5.7},{"s":"TW_8","x":31.85,"y":5.6},{"s":"TW_8","x":32.0,"y":5.5},{"s":"TW_8","x":32.15,"y":5.6},{"s":"TW_8","x":32.3,"y":5.5},{"s":"TW_8","x":32.45,"y":5.6},{"s":"TW_8","x":33.0,"y":5.6},
{"s":"TW_9","x":3,"y":5.5},{"s":"TW_9","x":3.15,"y":5.5},{"s":"TW_9","x":3.3,"y":5.4},{"s":"TW_9","x":3.45,"y":5.5},{"s":"TW_9","x":4.6,"y":5.5},{"s":"TW_9","x":4.75,"y":5.6},{"s":"TW_9","x":5.4,"y":5.6},{"s":"TW_9","x":5.55,"y":5.7},{"s":"TW_9","x":5.7,"y":5.8},{"s":"TW_9","x":6.35,"y":5.8},{"s":"TW_9","x":6.5,"y":5.9},{"s":"TW_9","x":7.0,"y":5.9},{"s":"TW_9","x":7.15,"y":6.0},{"s":"TW_9","x":7.5,"y":6.0},{"s":"TW_9","x":7.65,"y":6.1},{"s":"TW_9","x":8.05,"y":6.1},{"s":"TW_9","x":8.2,"y":6.2},{"s":"TW_9","x":8.7,"y":6.2},{"s":"TW_9","x":8.85,"y":6.3},{"s":"TW_9","x":9.35,"y":6.3},{"s":"TW_9","x":9.5,"y":6.4},{"s":"TW_9","x":9.8,"y":6.4},{"s":"TW_9","x":9.95,"y":6.5},{"s":"TW_9","x":10.35,"y":6.5},{"s":"TW_9","x":10.5,"y":6.6},{"s":"TW_9","x":10.8,"y":6.6},{"s":"TW_9","x":10.95,"y":6.7},{"s":"TW_9","x":11.25,"y":6.7},{"s":"TW_9","x":11.4,"y":6.8},{"s":"TW_9","x":11.65,"y":6.8},{"s":"TW_9","x":11.8,"y":6.9},{"s":"TW_9","x":11.9,"y":6.9},{"s":"TW_9","x":12.05,"y":7.0},{"s":"TW_9","x":12.2,"y":7.1},{"s":"TW_9","x":12.35,"y":7.2},{"s":"TW_9","x":12.5,"y":7.3},{"s":"TW_9","x":12.65,"y":7.4},{"s":"TW_9","x":12.8,"y":7.5},{"s":"TW_9","x":12.95,"y":7.6},{"s":"TW_9","x":13.1,"y":7.7},{"s":"TW_9","x":13.25,"y":7.8},{"s":"TW_9","x":13.4,"y":7.9},{"s":"TW_9","x":13.55,"y":8.0},{"s":"TW_9","x":13.7,"y":8.1},{"s":"TW_9","x":14.3,"y":8.1},{"s":"TW_9","x":14.4,"y":8.2},{"s":"TW_9","x":14.5,"y":8.1},{"s":"TW_9","x":14.6,"y":8.2},{"s":"TW_9","x":14.7,"y":8.1},{"s":"TW_9","x":14.85,"y":8.0},{"s":"TW_9","x":15.0,"y":8.0},{"s":"TW_9","x":15.15,"y":7.9},{"s":"TW_9","x":15.85,"y":7.9},{"s":"TW_9","x":16.0,"y":7.8},{"s":"TW_9","x":16.9,"y":7.8},{"s":"TW_9","x":17.05,"y":7.7},{"s":"TW_9","x":17.1,"y":7.7},{"s":"TW_9","x":17.25,"y":7.6},{"s":"TW_9","x":17.5,"y":7.6},{"s":"TW_9","x":17.65,"y":7.5},{"s":"TW_9","x":17.75,"y":7.5},{"s":"TW_9","x":17.9,"y":7.4},{"s":"TW_9","x":20.9,"y":7.4},{"s":"TW_9","x":21.05,"y":7.5},{"s":"TW_9","x":25.7,"y":7.5},{"s":"TW_9","x":25.85,"y":7.6},{"s":"TW_9","x":26.0,"y":7.5},{"s":"TW_9","x":26.55,"y":7.5},{"s":"TW_9","x":26.7,"y":7.3},{"s":"TW_9","x":26.85,"y":7.2},{"s":"TW_9","x":27.0,"y":7.1},{"s":"TW_9","x":27.15,"y":7.0},{"s":"TW_9","x":27.3,"y":7.0},{"s":"TW_9","x":27.45,"y":6.9},{"s":"TW_9","x":27.6,"y":6.9},{"s":"TW_9","x":27.75,"y":6.8},{"s":"TW_9","x":28.25,"y":6.8},{"s":"TW_9","x":28.4,"y":6.7},{"s":"TW_9","x":28.85,"y":6.7},{"s":"TW_9","x":29.0,"y":6.4},{"s":"TW_9","x":29.15,"y":6.2},{"s":"TW_9","x":29.3,"y":6.1},{"s":"TW_9","x":29.45,"y":5.9},{"s":"TW_9","x":29.6,"y":5.9},{"s":"TW_9","x":29.75,"y":6.0},{"s":"TW_9","x":29.9,"y":6.1},{"s":"TW_9","x":30.05,"y":6.0},{"s":"TW_9","x":30.15,"y":6.1},{"s":"TW_9","x":30.3,"y":6.2},{"s":"TW_9","x":30.45,"y":6.1},{"s":"TW_9","x":30.6,"y":6.1},{"s":"TW_9","x":30.75,"y":5.7},{"s":"TW_9","x":30.9,"y":5.6},{"s":"TW_9","x":31.05,"y":5.5},{"s":"TW_9","x":31.2,"y":5.6},{"s":"TW_9","x":31.35,"y":5.5},{"s":"TW_9","x":31.5,"y":5.6},{"s":"TW_9","x":31.65,"y":5.6},{"s":"TW_9","x":31.8,"y":5.5},{"s":"TW_9","x":31.95,"y":5.4},{"s":"TW_9","x":32.1,"y":5.5},{"s":"TW_9","x":32.3,"y":5.5},{"s":"TW_9","x":32.45,"y":5.4},{"s":"TW_9","x":32.6,"y":5.5},{"s":"TW_9","x":33.0,"y":5.5},
{"s":"TW_10","x":3,"y":5.4},{"s":"TW_10","x":3.15,"y":5.5},{"s":"TW_10","x":3.3,"y":5.5},{"s":"TW_10","x":3.45,"y":5.4},{"s":"TW_10","x":3.6,"y":5.3},{"s":"TW_10","x":4.15,"y":5.3},{"s":"TW_10","x":4.3,"y":5.4},{"s":"TW_10","x":4.9,"y":5.4},{"s":"TW_10","x":5.05,"y":5.5},{"s":"TW_10","x":5.2,"y":5.5},{"s":"TW_10","x":5.35,"y":5.4},{"s":"TW_10","x":5.5,"y":5.5},{"s":"TW_10","x":5.6,"y":5.6},{"s":"TW_10","x":5.75,"y":5.7},{"s":"TW_10","x":5.85,"y":5.8},{"s":"TW_10","x":6.5,"y":5.8},{"s":"TW_10","x":6.65,"y":5.9},{"s":"TW_10","x":7.2,"y":5.9},{"s":"TW_10","x":7.35,"y":6.0},{"s":"TW_10","x":7.65,"y":6.0},{"s":"TW_10","x":7.8,"y":6.1},{"s":"TW_10","x":8.25,"y":6.1},{"s":"TW_10","x":8.4,"y":6.2},{"s":"TW_10","x":8.9,"y":6.2},{"s":"TW_10","x":9.05,"y":6.3},{"s":"TW_10","x":9.55,"y":6.3},{"s":"TW_10","x":9.7,"y":6.4},{"s":"TW_10","x":10.0,"y":6.4},{"s":"TW_10","x":10.15,"y":6.5},{"s":"TW_10","x":10.55,"y":6.5},{"s":"TW_10","x":10.7,"y":6.6},{"s":"TW_10","x":11.0,"y":6.6},{"s":"TW_10","x":11.15,"y":6.7},{"s":"TW_10","x":11.45,"y":6.7},{"s":"TW_10","x":11.6,"y":6.8},{"s":"TW_10","x":11.85,"y":6.8},{"s":"TW_10","x":12.0,"y":6.9},{"s":"TW_10","x":12.1,"y":6.9},{"s":"TW_10","x":12.25,"y":7.0},{"s":"TW_10","x":12.4,"y":7.1},{"s":"TW_10","x":12.55,"y":7.2},{"s":"TW_10","x":12.7,"y":7.3},{"s":"TW_10","x":12.85,"y":7.4},{"s":"TW_10","x":13.0,"y":7.5},{"s":"TW_10","x":13.15,"y":7.6},{"s":"TW_10","x":13.3,"y":7.7},{"s":"TW_10","x":13.45,"y":7.8},{"s":"TW_10","x":13.6,"y":7.9},{"s":"TW_10","x":13.75,"y":8.0},{"s":"TW_10","x":14.55,"y":8.0},{"s":"TW_10","x":14.7,"y":7.9},{"s":"TW_10","x":15.5,"y":7.9},{"s":"TW_10","x":15.65,"y":7.8},{"s":"TW_10","x":16.45,"y":7.8},{"s":"TW_10","x":16.6,"y":7.7},{"s":"TW_10","x":16.9,"y":7.7},{"s":"TW_10","x":17.05,"y":7.6},{"s":"TW_10","x":17.35,"y":7.6},{"s":"TW_10","x":17.5,"y":7.5},{"s":"TW_10","x":18.7,"y":7.5},{"s":"TW_10","x":18.85,"y":7.4},{"s":"TW_10","x":23.95,"y":7.4},{"s":"TW_10","x":24.1,"y":7.5},{"s":"TW_10","x":26.45,"y":7.5},{"s":"TW_10","x":26.6,"y":7.4},{"s":"TW_10","x":26.75,"y":7.2},{"s":"TW_10","x":26.9,"y":7.1},{"s":"TW_10","x":27.05,"y":7.0},{"s":"TW_10","x":27.2,"y":6.9},{"s":"TW_10","x":27.4,"y":6.9},{"s":"TW_10","x":27.55,"y":6.8},{"s":"TW_10","x":27.85,"y":6.8},{"s":"TW_10","x":28.0,"y":6.7},{"s":"TW_10","x":28.85,"y":6.7},{"s":"TW_10","x":29.0,"y":6.3},{"s":"TW_10","x":29.15,"y":6.1},{"s":"TW_10","x":29.3,"y":6.0},{"s":"TW_10","x":29.45,"y":6.0},{"s":"TW_10","x":29.6,"y":6.1},{"s":"TW_10","x":29.75,"y":6.0},{"s":"TW_10","x":29.9,"y":6.1},{"s":"TW_10","x":30.05,"y":6.2},{"s":"TW_10","x":30.2,"y":6.1},{"s":"TW_10","x":30.35,"y":6.0},{"s":"TW_10","x":30.5,"y":6.1},{"s":"TW_10","x":30.6,"y":6.1},{"s":"TW_10","x":30.75,"y":5.7},{"s":"TW_10","x":30.9,"y":5.5},{"s":"TW_10","x":31.05,"y":5.4},{"s":"TW_10","x":31.2,"y":5.5},{"s":"TW_10","x":31.35,"y":5.4},{"s":"TW_10","x":31.5,"y":5.5},{"s":"TW_10","x":31.6,"y":5.5},{"s":"TW_10","x":31.75,"y":5.3},{"s":"TW_10","x":31.9,"y":5.1},{"s":"TW_10","x":32.0,"y":5.0},{"s":"TW_10","x":32.15,"y":5.1},{"s":"TW_10","x":32.25,"y":5.2},{"s":"TW_10","x":32.4,"y":5.1},{"s":"TW_10","x":32.55,"y":5.2},{"s":"TW_10","x":32.7,"y":5.3},{"s":"TW_10","x":32.85,"y":5.2},{"s":"TW_10","x":33.0,"y":5.2},
{"s":"TW_11","x":3,"y":5.4},{"s":"TW_11","x":3.2,"y":5.4},{"s":"TW_11","x":3.35,"y":5.3},{"s":"TW_11","x":3.9,"y":5.3},{"s":"TW_11","x":4.05,"y":5.4},{"s":"TW_11","x":4.25,"y":5.4},{"s":"TW_11","x":4.4,"y":5.5},{"s":"TW_11","x":4.55,"y":5.5},{"s":"TW_11","x":4.7,"y":5.4},{"s":"TW_11","x":5.0,"y":5.4},{"s":"TW_11","x":5.15,"y":5.5},{"s":"TW_11","x":5.45,"y":5.5},{"s":"TW_11","x":5.6,"y":5.6},{"s":"TW_11","x":5.75,"y":5.7},{"s":"TW_11","x":5.9,"y":5.8},{"s":"TW_11","x":6.7,"y":5.8},{"s":"TW_11","x":6.85,"y":5.9},{"s":"TW_11","x":7.3,"y":5.9},{"s":"TW_11","x":7.45,"y":6.0},{"s":"TW_11","x":7.6,"y":6.0},{"s":"TW_11","x":7.75,"y":6.1},{"s":"TW_11","x":8.4,"y":6.1},{"s":"TW_11","x":8.55,"y":6.2},{"s":"TW_11","x":9.05,"y":6.2},{"s":"TW_11","x":9.2,"y":6.3},{"s":"TW_11","x":9.75,"y":6.3},{"s":"TW_11","x":9.9,"y":6.4},{"s":"TW_11","x":10.15,"y":6.4},{"s":"TW_11","x":10.3,"y":6.5},{"s":"TW_11","x":10.75,"y":6.5},{"s":"TW_11","x":10.9,"y":6.6},{"s":"TW_11","x":11.2,"y":6.6},{"s":"TW_11","x":11.35,"y":6.7},{"s":"TW_11","x":11.6,"y":6.7},{"s":"TW_11","x":11.75,"y":6.8},{"s":"TW_11","x":12.0,"y":6.8},{"s":"TW_11","x":12.15,"y":6.9},{"s":"TW_11","x":12.3,"y":7.0},{"s":"TW_11","x":12.45,"y":7.1},{"s":"TW_11","x":12.6,"y":7.2},{"s":"TW_11","x":12.75,"y":7.3},{"s":"TW_11","x":12.9,"y":7.4},{"s":"TW_11","x":13.05,"y":7.5},{"s":"TW_11","x":13.2,"y":7.6},{"s":"TW_11","x":13.35,"y":7.7},{"s":"TW_11","x":13.5,"y":7.8},{"s":"TW_11","x":13.6,"y":7.9},{"s":"TW_11","x":13.75,"y":8.0},{"s":"TW_11","x":13.85,"y":8.1},{"s":"TW_11","x":14.05,"y":8.1},{"s":"TW_11","x":14.15,"y":8.2},{"s":"TW_11","x":14.25,"y":8.1},{"s":"TW_11","x":14.4,"y":8.1},{"s":"TW_11","x":14.55,"y":8.0},{"s":"TW_11","x":14.65,"y":7.9},{"s":"TW_11","x":15.15,"y":7.9},{"s":"TW_11","x":15.3,"y":7.8},{"s":"TW_11","x":15.95,"y":7.8},{"s":"TW_11","x":16.1,"y":7.7},{"s":"TW_11","x":16.55,"y":7.7},{"s":"TW_11","x":16.7,"y":7.6},{"s":"TW_11","x":17.0,"y":7.6},{"s":"TW_11","x":17.15,"y":7.5},{"s":"TW_11","x":17.65,"y":7.5},{"s":"TW_11","x":17.8,"y":7.4},{"s":"TW_11","x":19.7,"y":7.4},{"s":"TW_11","x":19.85,"y":7.3},{"s":"TW_11","x":21.8,"y":7.3},{"s":"TW_11","x":21.95,"y":7.4},{"s":"TW_11","x":23.9,"y":7.4},{"s":"TW_11","x":24.05,"y":7.5},{"s":"TW_11","x":26.5,"y":7.5},{"s":"TW_11","x":26.65,"y":7.3},{"s":"TW_11","x":26.8,"y":7.2},{"s":"TW_11","x":26.95,"y":7.1},{"s":"TW_11","x":27.1,"y":7.0},{"s":"TW_11","x":27.25,"y":6.9},{"s":"TW_11","x":27.45,"y":6.9},{"s":"TW_11","x":27.6,"y":6.8},{"s":"TW_11","x":27.9,"y":6.8},{"s":"TW_11","x":28.05,"y":6.7},{"s":"TW_11","x":28.7,"y":6.7},{"s":"TW_11","x":28.85,"y":6.6},{"s":"TW_11","x":29.0,"y":6.3},{"s":"TW_11","x":29.15,"y":6.2},{"s":"TW_11","x":29.3,"y":6.1},{"s":"TW_11","x":29.45,"y":6.1},{"s":"TW_11","x":29.6,"y":6.2},{"s":"TW_11","x":29.75,"y":6.1},{"s":"TW_11","x":29.9,"y":6.2},{"s":"TW_11","x":30.05,"y":6.3},{"s":"TW_11","x":30.2,"y":6.2},{"s":"TW_11","x":30.35,"y":6.3},{"s":"TW_11","x":30.5,"y":6.2},{"s":"TW_11","x":30.6,"y":6.2},{"s":"TW_11","x":30.75,"y":5.9},{"s":"TW_11","x":30.9,"y":5.8},{"s":"TW_11","x":31.05,"y":5.7},{"s":"TW_11","x":31.5,"y":5.7},{"s":"TW_11","x":31.65,"y":5.6},{"s":"TW_11","x":31.8,"y":5.5},{"s":"TW_11","x":31.95,"y":5.4},{"s":"TW_11","x":32.1,"y":5.5},{"s":"TW_11","x":32.25,"y":5.6},{"s":"TW_11","x":32.4,"y":5.5},{"s":"TW_11","x":32.55,"y":5.6},{"s":"TW_11","x":32.7,"y":5.6},{"s":"TW_11","x":32.85,"y":5.5},{"s":"TW_11","x":33.0,"y":5.6},
{"s":"TW_12","x":3,"y":5.4},{"s":"TW_12","x":3.3,"y":5.4},{"s":"TW_12","x":3.45,"y":5.3},{"s":"TW_12","x":3.95,"y":5.3},{"s":"TW_12","x":4.1,"y":5.4},{"s":"TW_12","x":4.7,"y":5.4},{"s":"TW_12","x":4.85,"y":5.5},{"s":"TW_12","x":5.35,"y":5.5},{"s":"TW_12","x":5.5,"y":5.6},{"s":"TW_12","x":5.65,"y":5.7},{"s":"TW_12","x":6.0,"y":5.7},{"s":"TW_12","x":6.15,"y":5.8},{"s":"TW_12","x":6.8,"y":5.8},{"s":"TW_12","x":6.95,"y":5.9},{"s":"TW_12","x":7.4,"y":5.9},{"s":"TW_12","x":7.55,"y":6.0},{"s":"TW_12","x":7.7,"y":6.0},{"s":"TW_12","x":7.85,"y":6.1},{"s":"TW_12","x":8.55,"y":6.1},{"s":"TW_12","x":8.7,"y":6.2},{"s":"TW_12","x":9.2,"y":6.2},{"s":"TW_12","x":9.35,"y":6.3},{"s":"TW_12","x":9.9,"y":6.3},{"s":"TW_12","x":10.05,"y":6.4},{"s":"TW_12","x":10.2,"y":6.4},{"s":"TW_12","x":10.35,"y":6.5},{"s":"TW_12","x":10.6,"y":6.5},{"s":"TW_12","x":10.7,"y":6.6},{"s":"TW_12","x":11.0,"y":6.6},{"s":"TW_12","x":11.15,"y":6.7},{"s":"TW_12","x":11.45,"y":6.7},{"s":"TW_12","x":11.6,"y":6.8},{"s":"TW_12","x":11.8,"y":6.8},{"s":"TW_12","x":11.95,"y":6.9},{"s":"TW_12","x":12.05,"y":7.0},{"s":"TW_12","x":12.2,"y":7.1},{"s":"TW_12","x":12.35,"y":7.2},{"s":"TW_12","x":12.5,"y":7.3},{"s":"TW_12","x":12.6,"y":7.4},{"s":"TW_12","x":12.75,"y":7.5},{"s":"TW_12","x":12.9,"y":7.6},{"s":"TW_12","x":13.0,"y":7.7},{"s":"TW_12","x":13.15,"y":7.8},{"s":"TW_12","x":13.3,"y":7.9},{"s":"TW_12","x":13.45,"y":8.0},{"s":"TW_12","x":13.6,"y":8.1},{"s":"TW_12","x":14.0,"y":8.1},{"s":"TW_12","x":14.1,"y":8.2},{"s":"TW_12","x":14.2,"y":8.1},{"s":"TW_12","x":14.3,"y":8.2},{"s":"TW_12","x":14.4,"y":8.1},{"s":"TW_12","x":14.5,"y":8.1},{"s":"TW_12","x":14.65,"y":8.0},{"s":"TW_12","x":14.75,"y":7.9},{"s":"TW_12","x":15.35,"y":7.9},{"s":"TW_12","x":15.5,"y":7.8},{"s":"TW_12","x":16.05,"y":7.8},{"s":"TW_12","x":16.2,"y":7.7},{"s":"TW_12","x":16.6,"y":7.7},{"s":"TW_12","x":16.75,"y":7.6},{"s":"TW_12","x":17.0,"y":7.6},{"s":"TW_12","x":17.15,"y":7.5},{"s":"TW_12","x":17.75,"y":7.5},{"s":"TW_12","x":17.9,"y":7.4},{"s":"TW_12","x":20.45,"y":7.4},{"s":"TW_12","x":20.6,"y":7.3},{"s":"TW_12","x":21.6,"y":7.3},{"s":"TW_12","x":21.75,"y":7.4},{"s":"TW_12","x":26.45,"y":7.4},{"s":"TW_12","x":26.6,"y":7.3},{"s":"TW_12","x":26.75,"y":7.2},{"s":"TW_12","x":26.9,"y":7.1},{"s":"TW_12","x":27.05,"y":7.0},{"s":"TW_12","x":27.2,"y":6.9},{"s":"TW_12","x":27.35,"y":6.9},{"s":"TW_12","x":27.5,"y":6.8},{"s":"TW_12","x":27.8,"y":6.8},{"s":"TW_12","x":27.95,"y":6.7},{"s":"TW_12","x":28.9,"y":6.7},{"s":"TW_12","x":29.05,"y":6.3},{"s":"TW_12","x":29.2,"y":6.1},{"s":"TW_12","x":29.35,"y":6.0},{"s":"TW_12","x":29.45,"y":5.9},{"s":"TW_12","x":29.6,"y":5.9},{"s":"TW_12","x":29.75,"y":6.0},{"s":"TW_12","x":29.9,"y":6.0},{"s":"TW_12","x":30.05,"y":6.1},{"s":"TW_12","x":30.2,"y":6.0},{"s":"TW_12","x":30.35,"y":6.1},{"s":"TW_12","x":30.55,"y":6.1},{"s":"TW_12","x":30.7,"y":5.8},{"s":"TW_12","x":30.85,"y":5.6},{"s":"TW_12","x":31.0,"y":5.5},{"s":"TW_12","x":31.15,"y":5.4},{"s":"TW_12","x":31.3,"y":5.5},{"s":"TW_12","x":31.45,"y":5.4},{"s":"TW_12","x":31.6,"y":5.5},{"s":"TW_12","x":31.7,"y":5.5},{"s":"TW_12","x":31.85,"y":5.2},{"s":"TW_12","x":32.0,"y":5.1},{"s":"TW_12","x":32.15,"y":5.0},{"s":"TW_12","x":32.3,"y":5.1},{"s":"TW_12","x":32.45,"y":5.2},{"s":"TW_12","x":32.6,"y":5.1},{"s":"TW_12","x":32.75,"y":5.2},{"s":"TW_12","x":32.9,"y":5.3},{"s":"TW_12","x":33.0,"y":5.2}
],
"tl": [
{"s":"TL","x":3,"y":6.4},{"s":"TL","x":3.17,"y":6.4},{"s":"TL","x":3.36,"y":6.3},{"s":"TL","x":3.6,"y":6.4},{"s":"TL","x":3.76,"y":6.5},{"s":"TL","x":4.11,"y":6.5},{"s":"TL","x":4.24,"y":6.4},{"s":"TL","x":4.34,"y":6.3},{"s":"TL","x":4.47,"y":6.4},{"s":"TL","x":4.56,"y":6.3},{"s":"TL","x":4.64,"y":6.2},{"s":"TL","x":4.91,"y":6.2},{"s":"TL","x":5.04,"y":6.3},{"s":"TL","x":5.18,"y":6.2},{"s":"TL","x":5.31,"y":6.1},{"s":"TL","x":5.44,"y":6.0},{"s":"TL","x":5.58,"y":6.0},{"s":"TL","x":5.68,"y":6.1},{"s":"TL","x":5.81,"y":6.2},{"s":"TL","x":6.08,"y":6.2},{"s":"TL","x":6.21,"y":6.3},{"s":"TL","x":6.48,"y":6.3},{"s":"TL","x":6.56,"y":6.4},{"s":"TL","x":6.7,"y":6.4},{"s":"TL","x":6.78,"y":6.3},{"s":"TL","x":6.88,"y":6.4},{"s":"TL","x":7.1,"y":6.4},{"s":"TL","x":7.18,"y":6.5},{"s":"TL","x":7.37,"y":6.5},{"s":"TL","x":7.45,"y":6.6},{"s":"TL","x":7.58,"y":6.6},{"s":"TL","x":7.68,"y":6.7},{"s":"TL","x":7.94,"y":6.7},{"s":"TL","x":8.03,"y":6.8},{"s":"TL","x":8.11,"y":6.8},{"s":"TL","x":8.25,"y":7.0},{"s":"TL","x":8.83,"y":7.0},{"s":"TL","x":8.91,"y":7.1},{"s":"TL","x":9.37,"y":7.1},{"s":"TL","x":9.45,"y":7.0},{"s":"TL","x":9.58,"y":6.9},{"s":"TL","x":9.9,"y":6.9},{"s":"TL","x":10.03,"y":7.0},{"s":"TL","x":10.35,"y":7.0},{"s":"TL","x":10.43,"y":7.1},{"s":"TL","x":10.57,"y":7.1},{"s":"TL","x":10.62,"y":7.2},{"s":"TL","x":10.78,"y":7.3},{"s":"TL","x":10.86,"y":7.4},{"s":"TL","x":11.1,"y":7.4},{"s":"TL","x":11.24,"y":7.5},{"s":"TL","x":11.37,"y":7.5},{"s":"TL","x":11.45,"y":7.6},{"s":"TL","x":11.61,"y":7.6},{"s":"TL","x":11.69,"y":7.7},{"s":"TL","x":11.77,"y":7.8},{"s":"TL","x":11.9,"y":7.9},{"s":"TL","x":11.98,"y":8.0},{"s":"TL","x":12.09,"y":8.1},{"s":"TL","x":12.17,"y":8.2},{"s":"TL","x":12.36,"y":8.2},{"s":"TL","x":12.44,"y":8.3},{"s":"TL","x":12.57,"y":8.2},{"s":"TL","x":12.71,"y":8.2},{"s":"TL","x":12.84,"y":8.4},{"s":"TL","x":12.92,"y":8.5},{"s":"TL","x":13.06,"y":8.6},{"s":"TL","x":13.16,"y":8.7},{"s":"TL","x":13.28,"y":8.8},{"s":"TL","x":13.55,"y":8.8},{"s":"TL","x":13.64,"y":8.7},{"s":"TL","x":13.8,"y":8.7},{"s":"TL","x":13.96,"y":8.6},{"s":"TL","x":14.12,"y":8.5},{"s":"TL","x":14.17,"y":8.5},{"s":"TL","x":14.25,"y":8.4},{"s":"TL","x":14.35,"y":8.3},{"s":"TL","x":14.49,"y":8.2},{"s":"TL","x":14.57,"y":8.2},{"s":"TL","x":14.71,"y":8.1},{"s":"TL","x":14.85,"y":8.1},{"s":"TL","x":14.92,"y":8.2},{"s":"TL","x":15.05,"y":8.1},{"s":"TL","x":15.15,"y":8.1},{"s":"TL","x":15.24,"y":8.2},{"s":"TL","x":15.37,"y":8.1},{"s":"TL","x":15.58,"y":8.1},{"s":"TL","x":15.64,"y":8.0},{"s":"TL","x":15.72,"y":8.1},{"s":"TL","x":16.17,"y":8.1},{"s":"TL","x":16.25,"y":8.0},{"s":"TL","x":16.39,"y":8.0},{"s":"TL","x":16.52,"y":7.9},{"s":"TL","x":16.65,"y":7.8},{"s":"TL","x":16.79,"y":7.7},{"s":"TL","x":16.98,"y":7.6},{"s":"TL","x":17.11,"y":7.6},{"s":"TL","x":17.19,"y":7.7},{"s":"TL","x":17.57,"y":7.7},{"s":"TL","x":17.65,"y":7.6},{"s":"TL","x":18.53,"y":7.6},{"s":"TL","x":18.63,"y":7.7},{"s":"TL","x":19.97,"y":7.7},{"s":"TL","x":20.05,"y":7.6},{"s":"TL","x":21.17,"y":7.6},{"s":"TL","x":21.25,"y":7.7},{"s":"TL","x":21.57,"y":7.7},{"s":"TL","x":21.65,"y":7.8},{"s":"TL","x":21.84,"y":7.8},{"s":"TL","x":21.92,"y":7.9},{"s":"TL","x":23.06,"y":7.9},{"s":"TL","x":23.17,"y":7.8},{"s":"TL","x":23.65,"y":7.8},{"s":"TL","x":23.73,"y":7.9},{"s":"TL","x":23.97,"y":7.9},{"s":"TL","x":24.05,"y":8.0},{"s":"TL","x":25.06,"y":8.0},{"s":"TL","x":25.17,"y":8.1},{"s":"TL","x":25.25,"y":8.1},{"s":"TL","x":25.4,"y":8.3},{"s":"TL","x":25.52,"y":8.2},{"s":"TL","x":25.65,"y":8.1},{"s":"TL","x":25.92,"y":8.1},{"s":"TL","x":26.0,"y":8.0},{"s":"TL","x":26.59,"y":8.0},{"s":"TL","x":26.72,"y":7.4},{"s":"TL","x":27.33,"y":7.4},{"s":"TL","x":27.44,"y":7.3},{"s":"TL","x":27.84,"y":7.3},{"s":"TL","x":28.0,"y":7.1},{"s":"TL","x":28.19,"y":7.1},{"s":"TL","x":28.24,"y":7.0},{"s":"TL","x":28.51,"y":7.0},{"s":"TL","x":28.59,"y":6.9},{"s":"TL","x":28.8,"y":6.9},{"s":"TL","x":28.99,"y":6.7},{"s":"TL","x":29.12,"y":6.5},{"s":"TL","x":29.26,"y":6.2},{"s":"TL","x":29.39,"y":6.3},{"s":"TL","x":29.52,"y":6.2},{"s":"TL","x":29.66,"y":6.2},{"s":"TL","x":29.79,"y":6.3},{"s":"TL","x":29.84,"y":6.4},{"s":"TL","x":29.98,"y":6.4},{"s":"TL","x":30.06,"y":6.5},{"s":"TL","x":30.16,"y":6.6},{"s":"TL","x":30.27,"y":6.5},{"s":"TL","x":30.38,"y":6.3},{"s":"TL","x":30.64,"y":6.3},{"s":"TL","x":30.8,"y":6.0},{"s":"TL","x":30.94,"y":5.5},{"s":"TL","x":31.04,"y":5.5},{"s":"TL","x":31.18,"y":5.7},{"s":"TL","x":31.34,"y":6.0},{"s":"TL","x":31.44,"y":6.0},{"s":"TL","x":31.52,"y":5.8},{"s":"TL","x":31.6,"y":5.9},{"s":"TL","x":31.71,"y":5.8},{"s":"TL","x":31.79,"y":5.4},{"s":"TL","x":31.87,"y":5.3},{"s":"TL","x":31.98,"y":5.2},{"s":"TL","x":32.06,"y":5.2},{"s":"TL","x":32.19,"y":5.6},{"s":"TL","x":32.33,"y":5.5},{"s":"TL","x":32.51,"y":5.5},{"s":"TL","x":32.64,"y":5.7},{"s":"TL","x":32.72,"y":5.6},{"s":"TL","x":32.86,"y":5.9},{"s":"TL","x":32.94,"y":5.9},{"s":"TL","x":33.0,"y":5.8}
]
},
"layer": [
  {"data": {"values": [{"x": 27, "x2": 33, "y": 5.2, "y2": 6.97}]},
   "mark": {"type": "rect", "color": "#e5cce5"},
   "encoding": {
     "x": {"field": "x", "type": "quantitative", "scale": {"domain": [1.5, 34.5], "nice": false, "zero": false}, "axis": {"values": [5,10,15,20,25,30], "format": "d", "title": "UTC time [hours]", "titlePadding": 6}},
     "x2": {"field": "x2"},
     "y": {"field": "y", "type": "quantitative", "scale": {"domain": [4.81, 8.99], "nice": false, "zero": false}, "axis": {"values": [5.0,5.5,6.0,6.5,7.0,7.5,8.0,8.5], "format": ".1f", "title": "Temperature [ °C]", "titlePadding": 6}},
     "y2": {"field": "y2"}
   }},
  {"data": {"name": "tw"},
   "mark": {"type": "line", "strokeWidth": 2.08, "strokeJoin": "round"},
   "encoding": {
     "x": {"field": "x", "type": "quantitative"},
     "y": {"field": "y", "type": "quantitative"},
     "detail": {"field": "s"},
     "color": {"field": "s", "type": "nominal",
       "scale": {"domain": ["TW_1","TW_2","TW_3","TW_4","TW_7","TW_8","TW_9","TW_10","TW_11","TW_12","TL","sunrise","Base min","Method min","Sander forecast","95% confidence"],
                 "range": ["black","black","black","black","black","black","black","black","black","black","#1f77b4","yellow","red","purple","red","#e5cce5"]},
       "legend": {"title": null,
         "encode": {"symbols": {"update": {
           "shape": {"signal": "datum.value === 'Sander forecast' ? 'M-0.55,-0.55L0.55,0.55M-0.55,0.55L0.55,-0.55' : (datum.value === '95% confidence' ? 'M-2.07,-0.64H2.07V0.64H-2.07Z' : 'M-2.07,0H2.07')"},
           "fill": {"signal": "datum.value === '95% confidence' ? '#e5cce5' : 'transparent'"},
           "stroke": {"signal": "datum.value === '95% confidence' ? 'transparent' : scale('color', datum.value)"},
           "strokeWidth": {"value": 2},
           "opacity": {"value": 1}
         }}}}}
   }},
  {"data": {"name": "tl"},
   "mark": {"type": "line", "strokeWidth": 2.08, "strokeJoin": "round"},
   "encoding": {
     "x": {"field": "x", "type": "quantitative"},
     "y": {"field": "y", "type": "quantitative"},
     "color": {"field": "s", "type": "nominal"}
   }},
  {"data": {"values": [{"x": 27}]},
   "mark": {"type": "rule", "color": "gray", "strokeWidth": 2.08},
   "encoding": {"x": {"field": "x", "type": "quantitative"}}},
  {"data": {"values": [{"x": 7.66}, {"x": 31.67}]},
   "mark": {"type": "rule", "color": "yellow", "strokeWidth": 2.08},
   "encoding": {"x": {"field": "x", "type": "quantitative"}}},
  {"data": {"values": [{"y": 6.747}]},
   "mark": {"type": "rule", "color": "red", "strokeWidth": 2.08},
   "encoding": {"y": {"field": "y", "type": "quantitative"}}},
  {"data": {"values": [{"y": 6.325}]},
   "mark": {"type": "rule", "color": "purple", "strokeWidth": 2.08},
   "encoding": {"y": {"field": "y", "type": "quantitative"}}},
  {"data": {"values": [{"x": 27, "y": 6.795}, {"x": 28, "y": 6.747}, {"x": 29, "y": 7.024}, {"x": 30, "y": 6.997}, {"x": 31, "y": 7.033}, {"x": 32, "y": 6.843}]},
   "mark": {"type": "point", "shape": "M-1,-1L1,1M-1,1L1,-1", "size": 64, "filled": false, "color": "red", "strokeWidth": 1.5, "opacity": 1},
   "encoding": {
     "x": {"field": "x", "type": "quantitative"},
     "y": {"field": "y", "type": "quantitative"}
   }}
]
}
